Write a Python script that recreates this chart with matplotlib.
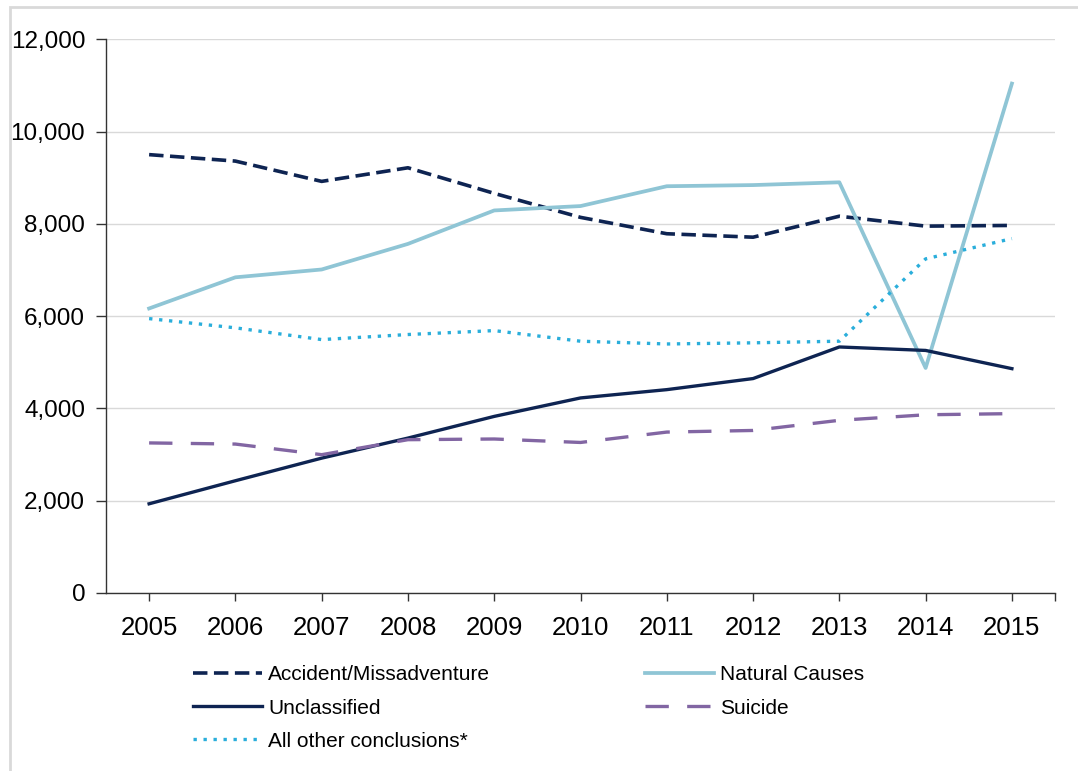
import numpy as np
import matplotlib
matplotlib.use('Agg')
import matplotlib.pyplot as plt
from matplotlib.patches import Rectangle
from matplotlib.ticker import FuncFormatter

plt.rcParams['font.family'] = ['Liberation Sans', 'DejaVu Sans']

years = ['2005', '2006', '2007', '2008', '2009', '2010', '2011', '2012', '2013', '2014', '2015']
accident = [9500, 9360, 8920, 9215, 8660, 8140, 7785, 7710, 8165, 7950, 7965]
natural = [6165, 6840, 7010, 7565, 8290, 8385, 8815, 8840, 8900, 4875, 11040]
unclassified = [1930, 2430, 2920, 3355, 3825, 4225, 4405, 4645, 5330, 5255, 4860]
suicide = [3250, 3225, 2995, 3320, 3335, 3260, 3485, 3520, 3740, 3860, 3885]
other = [5945, 5745, 5490, 5600, 5685, 5455, 5395, 5420, 5455, 7240, 7680]

navy = '#0e2452'
light_blue = '#8fc5d5'
purple = '#8266a3'
cyan = '#2aaedb'

fig = plt.figure(figsize=(10.78, 7.71), dpi=100)
ax = fig.add_axes([0.0983, 0.2311, 0.8804, 0.7179])

x = np.arange(len(years))
lw = 2.4
l_acc, = ax.plot(x, accident, color=navy, lw=lw + 0.2, dashes=(4, 1.8), label='Accident/Missadventure')
l_nat, = ax.plot(x, natural, color=light_blue, lw=lw + 0.3, label='Natural Causes')
l_unc, = ax.plot(x, unclassified, color=navy, lw=lw, label='Unclassified')
l_sui, = ax.plot(x, suicide, color=purple, lw=lw, dashes=(7, 5.5), label='Suicide')
l_oth, = ax.plot(x, other, color=cyan, lw=lw, dashes=(1, 2), label='All other conclusions*')

ax.set_xlim(-0.5, 10.5)
ax.set_ylim(0, 12000)
ax.set_yticks(range(0, 12001, 2000))
ax.yaxis.set_major_formatter(FuncFormatter(lambda v, p: f'{int(v):,}'))
ax.set_xticks(list(x) + [10.5])
ax.set_xticklabels(years + [''])

ax.grid(axis='y', color='#d9d9d9', lw=1)
ax.set_axisbelow(True)
for s in ['top', 'right']:
    ax.spines[s].set_visible(False)
for s in ['left', 'bottom']:
    ax.spines[s].set_color('#333333')
    ax.spines[s].set_linewidth(1)
ax.tick_params(axis='y', labelsize=17.5, length=7, width=1, color='#333333', pad=8)
ax.tick_params(axis='x', labelsize=18.5, length=6, width=1, color='#333333', pad=11)

handles = [l_acc, l_unc, l_oth, l_nat, l_sui]
fig.legend(handles, [h.get_label() for h in handles], ncol=2, loc='upper left',
           bbox_to_anchor=(0.179, 0.137), frameon=False, fontsize=15,
           handlelength=3.3, handletextpad=0.3, columnspacing=7.45,
           labelspacing=0.68, borderpad=0, borderaxespad=0)

# light grey border round the chart area
fig.add_artist(Rectangle((10 / 1078, -0.05), 1.2, (771 - 7) / 771 + 0.05,
                         transform=fig.transFigure, fill=False,
                         edgecolor='#d9d9d9', lw=2))

fig.savefig('out.png', dpi=100)
